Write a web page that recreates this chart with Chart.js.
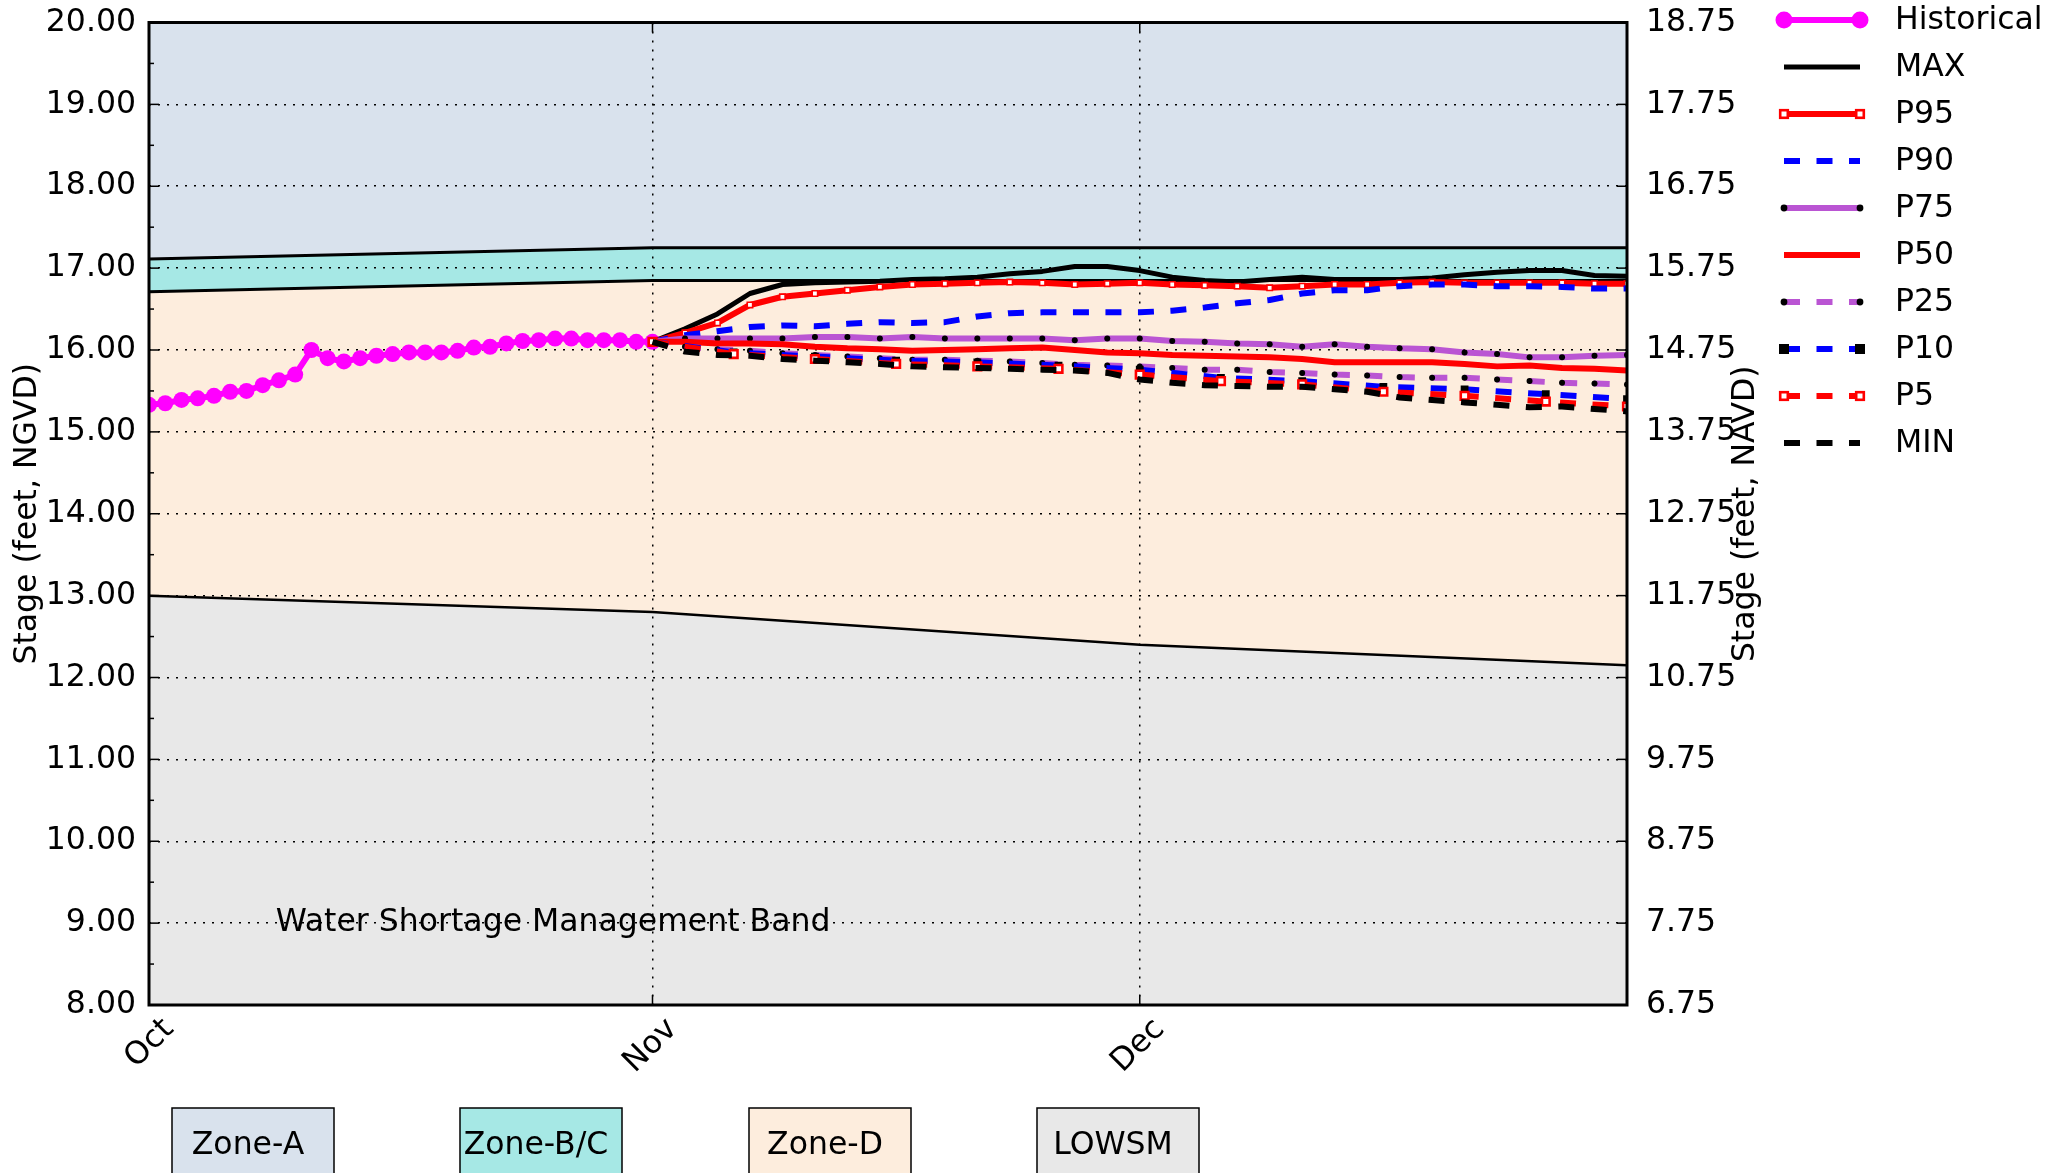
<!DOCTYPE html>
<html>
<head>
<meta charset="utf-8">
<script src="https://cdn.jsdelivr.net/npm/chart.js@4.4.0/dist/chart.umd.min.js"></script>
<style>
html,body{margin:0;padding:0;background:#ffffff;}
#wrap{width:2063px;height:1173px;position:relative;}
</style>
</head>
<body>
<div id="wrap"><canvas id="c"></canvas></div>
<script>
// ---------------- DATA ----------------
// x values are days counted from Oct 1
const monthTickDays = [0, 31, 61];
const monthTickLabels = ['Oct', 'Nov', 'Dec'];
const leftTicks = [8, 9, 10, 11, 12, 13, 14, 15, 16, 17, 18, 19, 20];
const leftMinorTicks = [8.5, 9.5, 10.5, 11.5, 12.5, 13.5, 14.5, 15.5, 16.5, 17.5, 18.5, 19.5];
const rightTicks = [6.75, 7.75, 8.75, 9.75, 10.75, 11.75, 12.75, 13.75, 14.75, 15.75, 16.75, 17.75, 18.75];

const histDays = [0,1,2,3,4,5,6,7,8,9,10,11,12,13,14,15,16,17,18,19,20,21,22,23,24,25,26,27,28,29,30,31];
const histStage = [15.33,15.35,15.39,15.41,15.44,15.49,15.50,15.57,15.63,15.70,16.00,15.90,15.86,15.90,15.93,15.95,15.97,15.97,15.97,15.99,16.03,16.04,16.08,16.11,16.12,16.14,16.14,16.12,16.12,16.12,16.10,16.10];

const fcDays = [31,33,35,37,39,41,43,45,47,49,51,53,55,57,59,61,63,65,67,69,71,73,75,77,79,81,83,85,87,89,91];
const maxStage = [16.10,16.26,16.44,16.69,16.80,16.82,16.83,16.84,16.86,16.87,16.89,16.93,16.96,17.02,17.02,16.97,16.89,16.85,16.83,16.86,16.89,16.86,16.86,16.86,16.88,16.92,16.95,16.97,16.97,16.91,16.90];
const p95Stage = [16.10,16.21,16.33,16.55,16.65,16.69,16.73,16.77,16.80,16.81,16.82,16.83,16.82,16.80,16.81,16.82,16.80,16.79,16.78,16.76,16.78,16.80,16.80,16.82,16.83,16.82,16.82,16.82,16.82,16.81,16.81];
const p90Stage = [16.10,16.18,16.23,16.28,16.30,16.29,16.32,16.34,16.33,16.34,16.41,16.45,16.46,16.46,16.46,16.46,16.48,16.52,16.57,16.61,16.69,16.73,16.73,16.78,16.80,16.80,16.78,16.78,16.77,16.75,16.75];
const p75Stage = [16.10,16.14,16.14,16.14,16.14,16.16,16.16,16.14,16.16,16.14,16.14,16.14,16.14,16.12,16.14,16.14,16.11,16.10,16.08,16.07,16.04,16.07,16.04,16.02,16.01,15.97,15.95,15.91,15.91,15.93,15.94];
const p50Stage = [16.10,16.10,16.08,16.08,16.07,16.04,16.02,16.01,15.99,16.00,16.01,16.02,16.03,16.00,15.97,15.96,15.94,15.93,15.92,15.91,15.89,15.85,15.85,15.85,15.85,15.83,15.80,15.81,15.78,15.77,15.75];
const p25Stage = [16.10,16.04,16.01,15.99,15.96,15.94,15.92,15.90,15.88,15.88,15.87,15.86,15.84,15.82,15.81,15.80,15.78,15.76,15.76,15.73,15.72,15.70,15.69,15.67,15.66,15.66,15.64,15.62,15.60,15.59,15.58];
const minStage = [16.10,15.98,15.94,15.93,15.89,15.87,15.85,15.83,15.80,15.79,15.78,15.77,15.76,15.75,15.72,15.64,15.60,15.57,15.56,15.55,15.55,15.52,15.49,15.42,15.39,15.36,15.33,15.30,15.31,15.28,15.25];

const fcDays5 = [31,36,41,46,51,56,61,66,71,76,81,86,91];
const p10Stage = [16.10,15.97,15.92,15.87,15.85,15.81,15.76,15.66,15.62,15.55,15.52,15.46,15.40];
const p5Stage = [16.10,15.95,15.89,15.83,15.80,15.77,15.70,15.62,15.58,15.49,15.44,15.37,15.31];

const zoneDays = [0, 31, 61, 91];
const zoneABTop = [17.11, 17.25, 17.25, 17.25];
const zoneBCTop = [16.71, 16.85, 16.85, 16.85];
const zoneDBottom = [13.00, 12.80, 12.40, 12.15];
const zoneFloor = [8, 8, 8, 8];

const zoneNames = ['Zone-A', 'Zone-B/C', 'Zone-D', 'LOWSM'];
const annotationText = 'Water Shortage Management Band';
const annotationDay = 7.8;
const annotationStage = 9.0;

// ---------------- STYLE ----------------
const FONT = "'DejaVu Sans', sans-serif";
const FS = 31.5;
const zoneColors = ['#d9e2ed', '#a6e8e5', '#fdeddd', '#e8e8e8'];
const DASH = [16, 16.5];
const LW = 6;

function pts(xs, ys) { return xs.map((x, i) => ({x: x, y: ys[i]})); }

const datasets = [
  {label: 'Historical', data: pts(histDays, histStage), borderColor: '#ff00ff', backgroundColor: '#ff00ff',
   borderWidth: 6, pointRadius: 8, pointBorderWidth: 0, pointBackgroundColor: '#ff00ff', order: 10, mk: 'circle'},
  {label: 'MAX', data: pts(fcDays, maxStage), borderColor: '#000000', borderWidth: 5, pointRadius: 0, order: 9},
  {label: 'P95', data: pts(fcDays, p95Stage), borderColor: '#ff0000', borderWidth: LW, pointStyle: 'rect', pointRadius: 3.8,
   pointBackgroundColor: '#ffffff', pointBorderColor: '#ff0000', pointBorderWidth: 1.6, order: 8, mk: 'wsq'},
  {label: 'P90', data: pts(fcDays, p90Stage), borderColor: '#0000ff', borderWidth: LW, borderDash: DASH, pointRadius: 0, order: 7},
  {label: 'P75', data: pts(fcDays, p75Stage), borderColor: '#ba55d3', borderWidth: LW, pointRadius: 3,
   pointBackgroundColor: '#000000', pointBorderWidth: 0, order: 6, mk: 'dot'},
  {label: 'P50', data: pts(fcDays, p50Stage), borderColor: '#ff0000', borderWidth: LW, pointRadius: 0, order: 5},
  {label: 'P25', data: pts(fcDays, p25Stage), borderColor: '#ba55d3', borderWidth: LW, borderDash: DASH, pointRadius: 3,
   pointBackgroundColor: '#000000', pointBorderWidth: 0, order: 4, mk: 'dot'},
  {label: 'P10', data: pts(fcDays5, p10Stage), borderColor: '#0000ff', borderWidth: LW, borderDash: DASH, pointStyle: 'rect',
   pointRadius: 5.5, pointBackgroundColor: '#000000', pointBorderColor: '#000000', pointBorderWidth: 0, order: 3, mk: 'bsq'},
  {label: 'P5', data: pts(fcDays5, p5Stage), borderColor: '#ff0000', borderWidth: LW, borderDash: DASH, pointStyle: 'rect',
   pointRadius: 5.4, pointBackgroundColor: '#ffffff', pointBorderColor: '#ff0000', pointBorderWidth: 2.6, order: 2, mk: 'wsq'},
  {label: 'MIN', data: pts(fcDays, minStage), borderColor: '#000000', borderWidth: LW, borderDash: DASH, pointRadius: 0, order: 1},
  // zone boundaries / fills
  {label: 'zoneAB', data: pts(zoneDays, zoneABTop), borderColor: '#000000', borderWidth: 3, pointRadius: 0,
   fill: 'end', backgroundColor: zoneColors[0], order: 20, zone: true},
  {label: 'zoneBC', data: pts(zoneDays, zoneBCTop), borderColor: '#000000', borderWidth: 3, pointRadius: 0,
   fill: '-1', backgroundColor: zoneColors[1], order: 21, zone: true},
  {label: 'zoneD', data: pts(zoneDays, zoneDBottom), borderColor: '#000000', borderWidth: 2.5, pointRadius: 0,
   fill: '-1', backgroundColor: zoneColors[2], order: 22, zone: true},
  {label: 'zoneLOWSM', data: pts(zoneDays, zoneFloor), borderColor: 'rgba(0,0,0,0)', borderWidth: 0, pointRadius: 0,
   fill: '-1', backgroundColor: zoneColors[3], order: 23, zone: true}
];

function drawMarker(ctx, mk, x, y) {
  ctx.save();
  if (mk === 'circle') {
    ctx.fillStyle = '#ff00ff'; ctx.beginPath(); ctx.arc(x, y, 8.5, 0, Math.PI * 2); ctx.fill();
  } else if (mk === 'dot') {
    ctx.fillStyle = '#000'; ctx.beginPath(); ctx.arc(x, y, 3.4, 0, Math.PI * 2); ctx.fill();
  } else if (mk === 'bsq') {
    ctx.fillStyle = '#000'; ctx.fillRect(x - 5, y - 5, 10, 10);
  } else if (mk === 'wsq') {
    ctx.fillStyle = '#fff'; ctx.strokeStyle = '#ff0000'; ctx.lineWidth = 2.6;
    ctx.fillRect(x - 3.8, y - 3.8, 7.6, 7.6); ctx.strokeRect(x - 3.8, y - 3.8, 7.6, 7.6);
  }
  ctx.restore();
}

const overlay = {
  id: 'overlay',
  afterDraw(chart) {
    const ctx = chart.ctx, a = chart.chartArea, ys = chart.scales.y, xs = chart.scales.x;
    ctx.save();
    ctx.strokeStyle = '#000';
    ctx.lineWidth = 1.5;
    ctx.setLineDash([]);
    const seg = (x1, y1, x2, y2) => { ctx.beginPath(); ctx.moveTo(x1, y1); ctx.lineTo(x2, y2); ctx.stroke(); };
    leftTicks.forEach(v => { const p = ys.getPixelForValue(v); seg(a.left, p, a.left + 10, p); seg(a.right - 10, p, a.right, p); });
    leftMinorTicks.forEach(v => { const p = ys.getPixelForValue(v); seg(a.left, p, a.left + 5, p); });
    monthTickDays.slice(1).forEach(d => { const p = xs.getPixelForValue(d); seg(p, a.bottom, p, a.bottom - 10); seg(p, a.top, p, a.top + 10); });
    ctx.lineWidth = 3;
    ctx.strokeRect(a.left, a.top, a.right - a.left, a.bottom - a.top);

    // annotation
    ctx.fillStyle = '#000';
    ctx.font = FS + 'px ' + FONT;
    ctx.textAlign = 'left'; ctx.textBaseline = 'middle';
    ctx.fillText(annotationText, xs.getPixelForValue(annotationDay), ys.getPixelForValue(annotationStage));

    // right axis title
    ctx.save();
    ctx.translate(1746, (a.top + a.bottom) / 2);
    ctx.rotate(-Math.PI / 2);
    ctx.textAlign = 'center'; ctx.textBaseline = 'middle';
    ctx.fillText('Stage (feet, NAVD)', 0, 0);
    ctx.restore();

    // series legend
    const legendDs = chart.data.datasets.filter(d => !d.zone);
    legendDs.forEach((d, i) => {
      const yy = 20 + 47 * i;
      const x1 = 1784, x2 = 1860;
      ctx.save();
      ctx.strokeStyle = d.borderColor; ctx.lineWidth = d.borderWidth;
      ctx.setLineDash(d.borderDash || []);
      seg(x1, yy, x2, yy);
      ctx.restore();
      if (d.mk) { drawMarker(ctx, d.mk, x1, yy); drawMarker(ctx, d.mk, x2, yy); }
      ctx.fillStyle = '#000';
      ctx.textAlign = 'left'; ctx.textBaseline = 'middle';
      ctx.fillText(d.label, 1895, yy + 1);
    });

    // zone legend boxes
    const boxX = [172, 460, 749, 1037];
    const boxW = 162;
    zoneNames.forEach((n, i) => {
      const bx = boxX[i];
      ctx.fillStyle = zoneColors[i];
      ctx.fillRect(bx, 1108, boxW, 80);
      ctx.lineWidth = 1.5; ctx.strokeStyle = '#000';
      ctx.strokeRect(bx, 1108, boxW, 80);
      ctx.fillStyle = '#000'; ctx.textAlign = 'center'; ctx.textBaseline = 'middle';
      ctx.fillText(n, bx + boxW / 2 - 5, 1146);
    });
    ctx.restore();
  }
};

function zeroPad(s) { s.paddingTop = 0; s.paddingBottom = 0; s.paddingLeft = 0; s.paddingRight = 0; }

Chart.defaults.font.family = FONT;
Chart.defaults.font.size = FS;
Chart.defaults.color = '#000';

new Chart(document.getElementById('c'), {
  type: 'line',
  data: {datasets: datasets},
  options: {
    responsive: true,
    maintainAspectRatio: false,
    devicePixelRatio: 1,
    animation: false,
    layout: {padding: {top: 22.5, right: 316, bottom: 0, left: 0}},
    elements: {line: {tension: 0, borderJoinStyle: 'round'}},
    plugins: {
      legend: {display: false},
      tooltip: {enabled: false},
      filler: {drawTime: 'beforeDraw', propagate: false}
    },
    scales: {
      x: {
        type: 'linear', min: 0, max: 91,
        afterBuildTicks: s => { s.ticks = monthTickDays.map(v => ({value: v})); },
        afterFit: s => { s.height = 168; zeroPad(s); },
        ticks: {
          autoSkip: false, minRotation: 45, maxRotation: 45, padding: 6, labelOffset: 20,
          callback: (v) => monthTickLabels[monthTickDays.indexOf(v)]
        },
        grid: {color: '#000', lineWidth: 1.5, drawTicks: false},
        border: {display: false, dash: [2, 7]}
      },
      y: {
        type: 'linear', position: 'left', min: 8, max: 20,
        afterBuildTicks: s => { s.ticks = leftTicks.map(v => ({value: v})); },
        afterFit: s => { s.width = 149; zeroPad(s); },
        ticks: {padding: 13, callback: v => Number(v).toFixed(2)},
        grid: {color: '#000', lineWidth: 1.5, drawTicks: false},
        border: {display: false, dash: [2, 7]},
        title: {display: true, text: 'Stage (feet, NGVD)', padding: {top: 9, bottom: 0}, font: {size: FS}}
      },
      y2: {
        type: 'linear', position: 'right', min: 6.75, max: 18.75,
        afterBuildTicks: s => { s.ticks = rightTicks.map(v => ({value: v})); },
        afterFit: s => { s.width = 120; zeroPad(s); },
        ticks: {padding: 19, callback: v => Number(v).toFixed(2)},
        grid: {display: false, drawTicks: false},
        border: {display: false}
      }
    }
  },
  plugins: [overlay]
});
</script>
</body>
</html>
